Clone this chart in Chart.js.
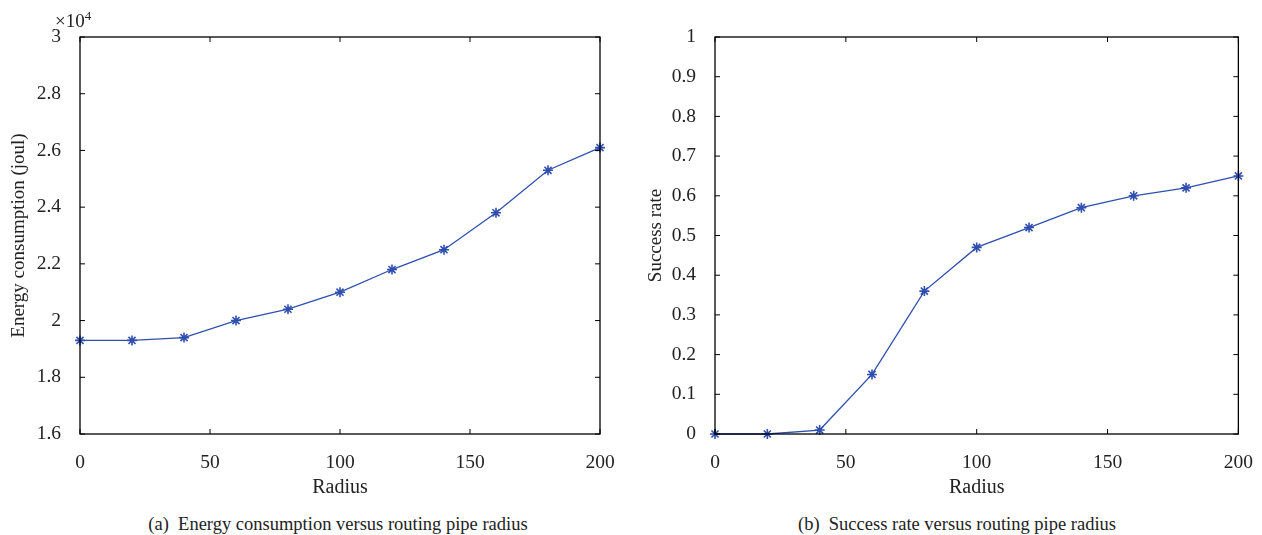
<!DOCTYPE html>
<html>
<head>
<meta charset="utf-8">
<script src="https://cdn.jsdelivr.net/npm/chart.js@4.4.1/dist/chart.umd.min.js"></script>
<style>
  body { margin: 0; background: #fff; width: 1262px; height: 535px; overflow: hidden; position: relative; font-family: 'Liberation Serif', serif; }
  .box { position: absolute; top: 0; height: 500px; }
  .caption { position: absolute; top: 514px; font-size: 18.5px; line-height: 21px; color: #222; white-space: nowrap; transform: translateX(-50%); }
  #exp { position: absolute; left: 55px; top: 5px; font-size: 19px; line-height: 22px; color: #222; }
  #exp sup { font-size: 13px; }
</style>
</head>
<body>
<div class="box" style="left:0;width:630px"><canvas id="energyCanvas"></canvas></div>
<div class="box" style="left:630px;width:632px"><canvas id="successCanvas"></canvas></div>
<div id="exp">&times;10<sup>4</sup></div>
<div class="caption" style="left:338px">(a)&nbsp; Energy consumption versus routing pipe radius</div>
<div class="caption" style="left:957px">(b)&nbsp; Success rate versus routing pipe radius</div>
<script>
const radius = [0, 20, 40, 60, 80, 100, 120, 140, 160, 180, 200];
// energy in joul
const energy = [19300, 19300, 19400, 20000, 20400, 21000, 21800, 22500, 23800, 25300, 26100];
const successRate = [0, 0, 0.01, 0.15, 0.36, 0.47, 0.52, 0.57, 0.60, 0.62, 0.65];
const xTicks = [0, 50, 100, 150, 200];

const lineColor = '#2f4fae';
const textColor = '#222';
const fontFamily = "'Liberation Serif', serif";

// boxed axes with inward ticks, matlab style
const boxTicks = {
  id: 'boxTicks',
  afterDatasetsDraw(chart) {
    const ctx = chart.ctx;
    const ca = chart.chartArea;
    const xs = chart.scales.x;
    const ys = chart.scales.y;
    const len = 5;
    ctx.save();
    ctx.strokeStyle = '#000';
    ctx.lineWidth = 1.3;
    ctx.strokeRect(ca.left, ca.top, ca.right - ca.left, ca.bottom - ca.top);
    ctx.lineWidth = 1;
    ctx.beginPath();
    xs.ticks.forEach(t => {
      let px = xs.getPixelForValue(t.value);
      ctx.moveTo(px, ca.bottom); ctx.lineTo(px, ca.bottom - len);
      ctx.moveTo(px, ca.top); ctx.lineTo(px, ca.top + len);
    });
    ys.ticks.forEach(t => {
      let py = ys.getPixelForValue(t.value);
      ctx.moveTo(ca.left, py); ctx.lineTo(ca.left + len, py);
      ctx.moveTo(ca.right, py); ctx.lineTo(ca.right - len, py);
    });
    ctx.stroke();
    ctx.restore();
  }
};

function makeChart(canvasId, values, yTitle, yOpts, yWidth, padRight, titlePad) {
  return new Chart(document.getElementById(canvasId), {
    type: 'line',
    data: {
      datasets: [{
        data: radius.map((r, i) => ({x: r, y: values[i]})),
        borderColor: lineColor,
        backgroundColor: lineColor,
        borderWidth: 1.3,
        pointStyle: 'star',
        pointRadius: 5,
        pointBorderWidth: 1.6,
        pointBorderColor: lineColor,
        clip: false,
        tension: 0
      }]
    },
    options: {
      responsive: true,
      maintainAspectRatio: false,
      animation: false,
      events: [],
      layout: { padding: { top: 37, right: padRight, left: 0, bottom: 0 } },
      plugins: { legend: { display: false }, tooltip: { enabled: false } },
      scales: {
        x: {
          type: 'linear',
          min: 0, max: 200,
          afterBuildTicks: s => { s.ticks = xTicks.map(v => ({value: v})); },
          afterFit: s => { s.height = 66; },
          grid: { display: false },
          border: { display: false },
          ticks: { color: textColor, font: { family: fontFamily, size: 19.5 }, padding: 9, maxRotation: 0 },
          title: { display: true, text: 'Radius', color: textColor, font: { family: fontFamily, size: 20 }, padding: { top: 0, bottom: 0 } }
        },
        y: Object.assign({
          afterFit: s => { s.width = yWidth; },
          grid: { display: false },
          border: { display: false },
          title: { display: true, text: yTitle, color: textColor, font: { family: fontFamily, size: 19 }, padding: { top: titlePad, bottom: 0 } }
        }, yOpts)
      }
    },
    plugins: [boxTicks]
  });
}

makeChart('energyCanvas', energy, 'Energy consumption (joul)', {
  min: 16000, max: 30000,
  ticks: { stepSize: 2000, color: textColor, font: { family: fontFamily, size: 19.5 }, padding: 11,
           callback: v => String(Math.round(v / 1000) / 10) }
}, 80, 30, 8);

makeChart('successCanvas', successRate, 'Success rate', {
  min: 0, max: 1,
  ticks: { stepSize: 0.1, color: textColor, font: { family: fontFamily, size: 19.5 }, padding: 11,
           callback: v => String(Math.round(v * 10) / 10) }
}, 85, 22, 15);
</script>
</body>
</html>
